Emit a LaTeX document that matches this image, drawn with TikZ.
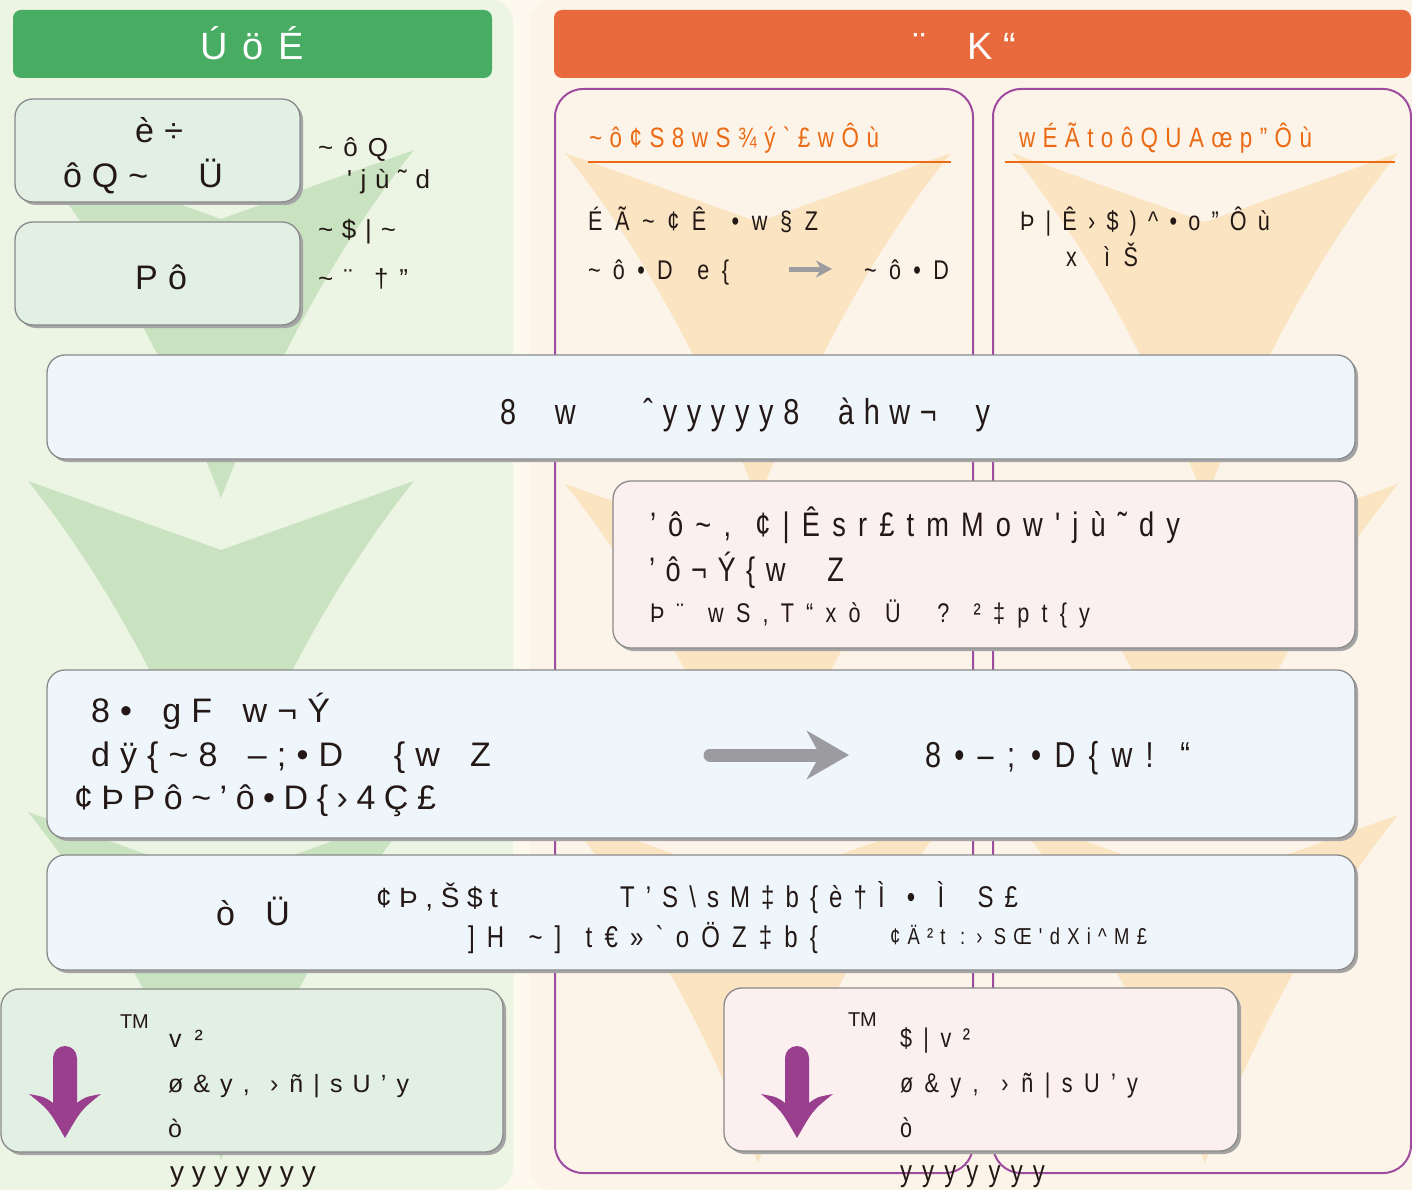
\documentclass[tikz,border=0pt]{standalone}
\usepackage{fontspec}
\newfontfamily\af{Liberation Sans}
\newfontfamily\cf{Liberation Sans}[FakeStretch=0.8]
\usetikzlibrary{shadows,arrows.meta}
\definecolor{bgcream}{HTML}{FEF9EF}
\definecolor{leftbg}{HTML}{ECF5E4}
\definecolor{rightbg}{HTML}{FDF4E9}
\definecolor{greenchev}{HTML}{C9E2C0}
\definecolor{orangechev}{HTML}{FAE4C2}
\definecolor{greenhead}{HTML}{48AC63}
\definecolor{orangehead}{HTML}{E8693C}
\definecolor{orangetxt}{HTML}{EB6A14}
\definecolor{purpleline}{HTML}{9D4C9F}
\definecolor{greenbox}{HTML}{E2EFE3}
\definecolor{bluebox}{HTML}{EEF6FC}
\definecolor{pinkbox}{HTML}{FCEFEF}
\definecolor{boxline}{HTML}{8A8A8A}
\definecolor{shadowgray}{HTML}{A4A4A4}
\definecolor{arrowgray}{HTML}{9C9CA0}
\definecolor{purplearrow}{HTML}{9A3F8E}
\definecolor{txt}{HTML}{231815}
\newcommand\sline[2]{\makebox[#1pt][s]{#2}}
\newcommand\purplearrowshape[1]{%
  \fill[purplearrow] (#1-12,1058) .. controls (#1-12,1051.4) and (#1-6.6,1046) .. (#1,1046)
    .. controls (#1+6.6,1046) and (#1+12,1051.4) .. (#1+12,1058) -- (#1+12,1103)
    .. controls (#1+20,1097) .. (#1+36,1094) .. controls (#1+16,1110) .. (#1,1138)
    .. controls (#1-16,1110) .. (#1-36,1094) .. controls (#1-20,1097) .. (#1-12,1103) -- cycle;}
\begin{document}
\begin{tikzpicture}[x=1pt,y=-1pt,
  tx/.style={font={\af\fontsize{#1}{#1}\selectfont}, inner sep=0pt, outer sep=0pt, anchor=base west, text=txt},
  cx/.style={font={\cf\fontsize{#1}{#1}\selectfont}, inner sep=0pt, outer sep=0pt, anchor=base west, text=txt},
  card/.style={draw=boxline, line width=1.3pt, rounded corners=18pt, inner sep=0pt, outer sep=0pt, anchor=north west,
    drop shadow={shadow xshift=3pt, shadow yshift=-3pt, fill=shadowgray, opacity=1}},
  frame/.style={draw=purpleline, line width=2pt, rounded corners=28pt},
  header/.style={rounded corners=8pt, inner sep=0pt, outer sep=0pt, anchor=north west},
  rule/.style={draw=orangetxt, line width=2.5pt},
]
\useasboundingbox (0,0) rectangle (1412,1190);
\fill[bgcream] (0,0) rectangle (1412,1190);
\fill[leftbg, rounded corners=22pt] (-40,0) rectangle (513,1190);
\fill[rightbg, rounded corners=22pt] (530,0) rectangle (1460,1190);

% funnels
\foreach \cx/\cy/\cc in {221/150/greenchev,221/481/greenchev,221/812/greenchev,758/153/orangechev,758/484/orangechev,758/815/orangechev,1205/153/orangechev,1205/484/orangechev,1205/815/orangechev}{
  \fill[fill=\cc] (\cx-193,\cy) -- (\cx,\cy+69) -- (\cx+193,\cy)
    .. controls (\cx+118.3,\cy+93.3) and (\cx+54,\cy+209.3) .. (\cx,\cy+348)
    .. controls (\cx-54,\cy+209.3) and (\cx-118.3,\cy+93.3) .. cycle;
}

% purple frames
\draw[frame] (555,89) rectangle (973,1173);
\draw[frame] (993,89) rectangle (1411,1173);

% headers
\node[header, fill=greenhead, minimum width=479pt, minimum height=68pt] (lhead) at (13,10) {};
\node[tx=38, text=white] (lheadt) at (200,60) {\sline{104}{Ú ö É}};
\node[header, fill=orangehead, minimum width=857pt, minimum height=68pt] (rhead) at (554,10) {};
\node[tx=38, text=white] (rheadt) at (913,60) {\sline{103}{¨\ \ \ \ K “}};

% sub-panel titles
\node[cx=28, text=orangetxt] (ta) at (589,148) {\sline{290}{\textasciitilde{} ô ¢ S 8 w S ¾ ý ` £ w Ô ù}};
\node[cx=28, text=orangetxt] (tb) at (1019,148) {\sline{293}{w É Ã t o ô Q U A œ p ” Ô ù}};
\draw[rule] (588,162) -- (951,162);
\draw[rule] (1005,162) -- (1395,162);

% sub-panel contents
\node[cx=27] (a1) at (588,231) {\sline{230}{É Ã \textasciitilde{} ¢ Ê\ \ • w § Z}};
\node[cx=27] (a2) at (588,279) {\sline{141}{\textasciitilde{} ô • D\ \ e \{}};
\node[cx=27] (a3) at (864,279) {\sline{85}{\textasciitilde{} ô • D}};
\coordinate (sa1) at (789,269);
\coordinate (sa2) at (832,269);
\draw[arrowgray, line width=5pt, -{Stealth[length=16pt, width=17pt, inset=5pt]}] (sa1) -- (sa2);
\node[cx=27] (b1) at (1020,231) {\sline{250}{Þ | Ê › \$ ) \textasciicircum{} • o ” Ô ù}};
\node[cx=27] (b2) at (1066,266) {\sline{72}{x\ \ ì Š}};

% boxes
\node[card, fill=greenbox, minimum width=285pt, minimum height=103pt] (boxa) at (15,99) {};
\node[card, fill=greenbox, minimum width=285pt, minimum height=103pt] (boxb) at (15,222) {};
\node[card, fill=bluebox, minimum width=1308pt, minimum height=104pt] (bar1) at (47,355) {};
\node[card, fill=pinkbox, minimum width=742pt, minimum height=167pt] (pinkb) at (613,481) {};
\node[card, fill=bluebox, minimum width=1308pt, minimum height=168pt] (bar2) at (47,670) {};
\node[card, fill=bluebox, minimum width=1308pt, minimum height=115pt] (bar3) at (47,855) {};
\node[card, fill=greenbox, minimum width=502pt, minimum height=163pt] (boxl) at (1,989) {};
\node[card, fill=pinkbox, minimum width=514pt, minimum height=163pt] (boxr) at (724,988) {};

% left boxes text
\node[tx=34] (ba1) at (135,143) {\sline{48}{è ÷}};
\node[tx=34] (ba2) at (63,188) {\sline{160}{ô Q \textasciitilde\ \ \ \ \ Ü}};
\node[tx=34] (bb1) at (135,289) {\sline{52}{P ô}};
\node[tx=26] (s1) at (318,157) {\sline{70}{\textasciitilde{} ô Q}};
\node[tx=26] (s2) at (347,189) {\sline{83}{' j ù ˜ d}};
\node[tx=26] (s3) at (318,239) {\sline{78}{\textasciitilde{} \$ | \textasciitilde}};
\node[tx=26] (s4) at (318,287) {\sline{90}{\textasciitilde{} ¨\ \ † ”}};

% bar 1
\node[cx=36] (r1) at (500,424) {\sline{490}{8\ \ \ \ w\ \ \ \ \ \ \ ˆ y y y y y 8\ \ \ \ à h w ¬\ \ \ \ y}};

% pink box
\node[cx=34] (p1) at (650,536) {\sline{530}{’ ô \textasciitilde{} ,\ \ ¢ | Ê s r £ t m M o w ' j ù ˜ d y}};
\node[cx=34] (p2) at (649,581) {\sline{195}{’ ô ¬ Ý \{ w\ \ \ \ Z}};
\node[cx=27] (p3) at (650,622) {\sline{440}{Þ ¨\ \ w S , T “ x ò\ \ Ü\ \ \ ?\ \ ² ‡ p t \{ y}};

% bar 2
\node[tx=34] (q1) at (91,722) {\sline{239}{8 •\ \ \ g F\ \ \ w ¬ Ý}};
\node[tx=34] (q2) at (91,766) {\sline{400}{d ÿ \{ \textasciitilde{} 8\ \ \ – ; • D\ \ \ \ \ \{ w\ \ \ Z}};
\node[tx=34] (q3) at (74,809) {\sline{362}{¢ Þ P ô \textasciitilde{} ’ ô • D \{ › 4 Ç £}};
\node[cx=36] (q4) at (925,767) {\sline{265}{8 • – ; • D \{ w !\ \ “}};
\coordinate (ga1) at (710,755);
\coordinate (ga2) at (849,755);
\draw[arrowgray, line width=13pt, line cap=round, -{Stealth[length=42pt, width=48pt, inset=13pt]}] (ga1) -- (ga2);

% bar 3
\node[tx=34] (u1) at (216,925) {\sline{74}{ò\ \ \ Ü}};
\node[tx=28] (u2) at (376,907) {\sline{122}{¢ Þ , Š \$ t}};
\node[cx=30] (u3) at (620,907) {\sline{398}{T ’ S \textbackslash{} s M ‡ b \{ è † Ì\ \ •\ \ Ì\ \ \ S £}};
\node[cx=30] (u4) at (468,947) {\sline{350}{] H\ \ \textasciitilde{} ]\ \ t € » ` o Ö Z ‡ b \{}};
\node[cx=23] (u5) at (890,944) {\sline{257}{¢ Ä ² t\ \ : › S Œ ' d X i \textasciicircum{} M £}};

% bottom left box
\purplearrowshape{65}
\node[tx=20] (l0) at (120,1028) {TM};
\node[tx=25] (l1) at (169,1047) {\sline{34}{v ²}};
\node[tx=25] (l2) at (168,1092) {\sline{241}{ø \& y ,\ \ › ñ | s U ’ y}};
\node[tx=25] (l3) at (168,1137) {ò};
\node[tx=28] (l4) at (170,1181) {\sline{146}{y y y y y y y}};

% bottom right box
\purplearrowshape{797}
\node[tx=20] (m0) at (848,1026) {TM};
\node[cx=27] (m1) at (900,1047) {\sline{70}{\$ | v ²}};
\node[cx=27] (m2) at (900,1092) {\sline{238}{ø \& y ,\ \ › ñ | s U ’ y}};
\node[cx=27] (m3) at (900,1137) {ò};
\node[cx=30] (m4) at (900,1181) {\sline{145}{y y y y y y y}};
\end{tikzpicture}
\end{document}
